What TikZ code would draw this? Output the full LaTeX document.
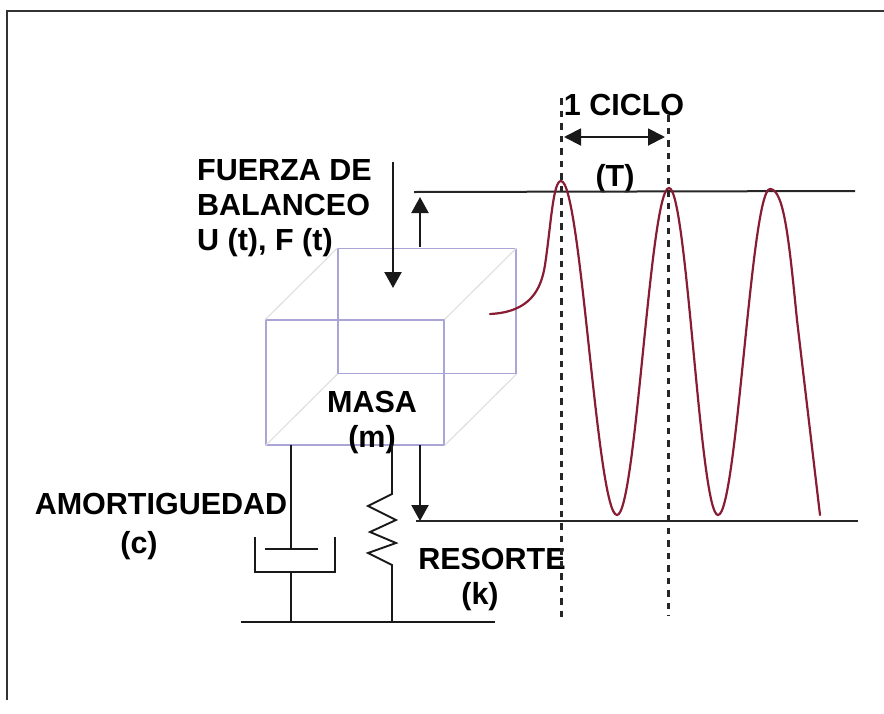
\documentclass[tikz,border=0pt]{standalone}
\usepackage{fontspec}
\usepackage{xcolor}
\setmainfont{Liberation Sans}
\usetikzlibrary{arrows.meta, positioning}
\definecolor{cubeblue}{RGB}{170,165,215}
\definecolor{cubegray}{RGB}{222,222,222}
\definecolor{wavered}{RGB}{135,28,50}
\tikzset{
    rotulo/.style={font=\bfseries\fontsize{30.5}{35}\selectfont, inner sep=0pt, text=black},
    facebox/.style={draw=cubeblue, line width=1.1pt, minimum width=178pt, minimum height=125pt, inner sep=0pt},
    cubeedge/.style={draw=cubegray, line width=1.1pt},
    marco/.style={line width=1.8pt, draw=black!80},
    linea/.style={line width=1.9pt, draw=black!90},
    nivel/.style={line width=2pt, draw=black!85},
    guia/.style={line width=3pt, draw=black!85, dash pattern=on 6.5pt off 6pt},
    flecha/.style={linea, -{Triangle[length=16pt,width=17pt]}, line width=2.2pt},
    onda/.style={line width=2.2pt, draw=wavered, line cap=round}
}
\begin{document}
\begin{tikzpicture}[x=1pt, y=-1pt]
    \useasboundingbox (0,0) rectangle (884,713);

    % marco
    \coordinate (marcoA) at (7,700);
    \coordinate (marcoB) at (7,11);
    \coordinate (marcoC) at (884,11);
    \draw[marco] (marcoA) -- (marcoB) -- (marcoC);

    % cubo
    \node[facebox] (backface) at (427,311) {};
    \node[facebox] (frontface) at (355,382.5) {};
    \draw[cubeedge] (frontface.north west) -- (backface.north west);
    \draw[cubeedge] (frontface.north east) -- (backface.north east);
    \draw[cubeedge] (frontface.south west) -- (backface.south west);
    \draw[cubeedge] (frontface.south east) -- (backface.south east);

    % textos
    \node[rotulo, align=left, anchor=base west] (fuerza) at (197,250) {FUERZA DE\\BALANCEO\\U (t), F (t)};
    \node[rotulo, align=center, anchor=base] (masa) at (372,447) {MASA\\(m)};
    \node[rotulo, anchor=base] (amort) at (161,514) {AMORTIGUEDAD};
    \node[rotulo, anchor=base] (amortc) at (139,553) {(c)};
    \node[rotulo, anchor=base] (resorte) at (492,569) {RESORTE};
    \node[rotulo, anchor=base] (resortek) at (480,604) {(k)};
    \node[rotulo, anchor=base] (ciclo) at (624,115) {1 CICLO};
    \node[rotulo, anchor=base] (periodo) at (615,186) {(T)};

    % base y amortiguador
    \coordinate (sueloA) at (241,622);
    \coordinate (sueloB) at (495,622);
    \coordinate (damperfoot) at (291,622);
    \coordinate (springfoot) at (392,622);
    \coordinate (damperroof) at (291,445);
    \coordinate (springroof) at (392,445);
    \coordinate (piston) at (291,549);
    \coordinate (pistonL) at (265,549);
    \coordinate (pistonR) at (318,549);
    \coordinate (cupA) at (255,537);
    \coordinate (cupB) at (255,572);
    \coordinate (cupC) at (335,572);
    \coordinate (cupD) at (335,537);
    \coordinate (cupM) at (291,572);
    \draw[linea, line width=2.4pt] (sueloA) -- (sueloB);
    \draw[linea] (damperroof) -- (piston);
    \draw[linea] (pistonL) -- (pistonR);
    \draw[linea] (cupA) -- (cupB) -- (cupC) -- (cupD);
    \draw[linea, line width=2.4pt] (cupM) -- (damperfoot);

    % resorte
    \draw[linea, line join=miter] (springroof) -- (392,494) -- (368,506) -- (396,520) -- (370,532)
        -- (396,543) -- (368,553) -- (392,565) -- (springfoot);

    % flechas
    \coordinate (fuerzaA) at (393,162);
    \coordinate (fuerzaB) at (393,288);
    \coordinate (subeA) at (420,247);
    \coordinate (subeB) at (420,197);
    \coordinate (bajaA) at (420,445);
    \coordinate (bajaB) at (420,521);
    \draw[flecha] (fuerzaA) -- (fuerzaB);
    \draw[flecha] (subeA) -- (subeB);
    \draw[flecha] (bajaA) -- (bajaB);

    % niveles
    \coordinate (topA) at (414,192);
    \coordinate (topB) at (855,191);
    \coordinate (botA) at (416,521);
    \coordinate (botB) at (858,521);
    \draw[nivel] (topA) -- (topB);
    \draw[nivel] (botA) -- (botB);

    % onda
    \draw[onda] (490,314) .. controls (530,312) and (541,290) .. (545,265)
        .. controls (551,225) and (553,181) .. (561,181)
        .. controls (581,181) and (597,515) .. (617,515)
        .. controls (636,515) and (650,188) .. (669,188)
        .. controls (687,188) and (700,515) .. (718,515)
        .. controls (737,515) and (751,189) .. (770,189)
        .. controls (784,189) and (789,240) .. (797,320)
        -- (820,515);

    % ciclo
    \coordinate (guiaA) at (561,98);
    \coordinate (guiaB) at (561,621);
    \coordinate (guiaC) at (668,115);
    \coordinate (guiaD) at (668,616);
    \draw[guia] (guiaA) -- (guiaB);
    \draw[guia] (guiaC) -- (guiaD);
    \coordinate (cotaA) at (564,137);
    \coordinate (cotaB) at (665,137);
    \draw[linea, {Triangle[length=17pt,width=17pt]}-{Triangle[length=17pt,width=17pt]}] (cotaA) -- (cotaB);
\end{tikzpicture}
\end{document}
